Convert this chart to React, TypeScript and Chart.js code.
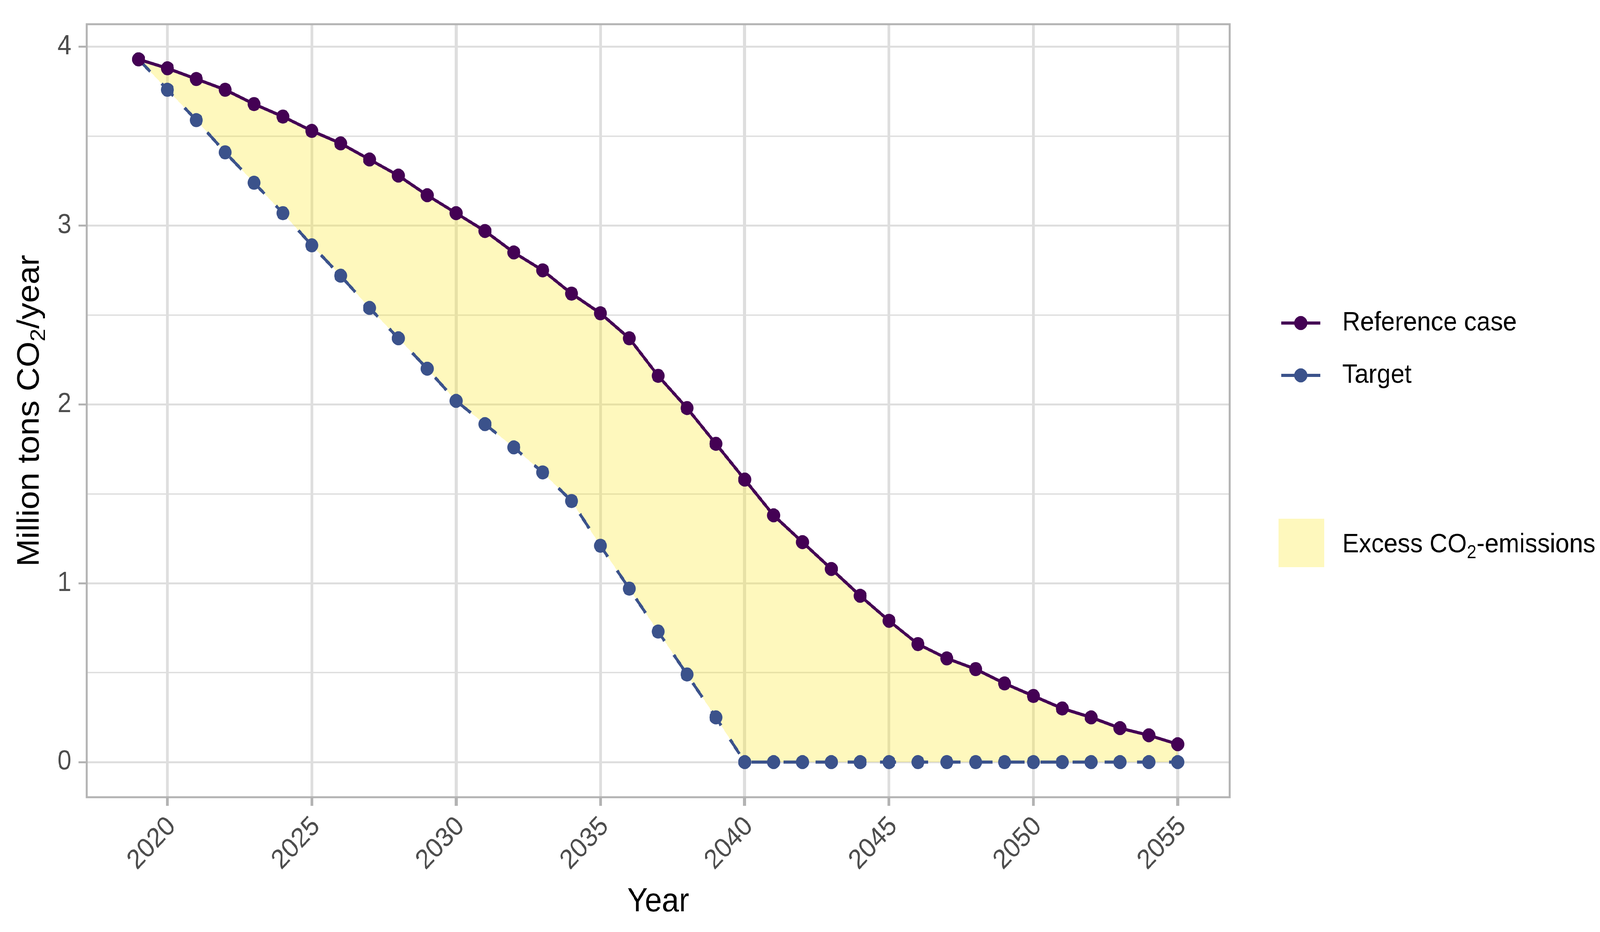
import React, { useEffect, useRef, useState } from 'react';
import { Chart, registerables } from 'chart.js';

Chart.register(...registerables);

const W = 4433;
const H = 2386;
const FONT = "'Liberation Sans', Arial, Helvetica, sans-serif";

const years = [
  2019, 2020, 2021, 2022, 2023, 2024, 2025, 2026, 2027, 2028,
  2029, 2030, 2031, 2032, 2033, 2034, 2035, 2036, 2037, 2038,
  2039, 2040, 2041, 2042, 2043, 2044, 2045, 2046, 2047, 2048,
  2049, 2050, 2051, 2052, 2053, 2054, 2055,
];

const referenceCase = [
  3.93, 3.88, 3.82, 3.76, 3.68, 3.61, 3.53, 3.46, 3.37, 3.28,
  3.17, 3.07, 2.97, 2.85, 2.75, 2.62, 2.51, 2.37, 2.16, 1.98,
  1.78, 1.58, 1.38, 1.23, 1.08, 0.93, 0.79, 0.66, 0.58, 0.52,
  0.44, 0.37, 0.30, 0.25, 0.19, 0.15, 0.10,
];

const target = [
  3.93, 3.76, 3.59, 3.41, 3.24, 3.07, 2.89, 2.72, 2.54, 2.37,
  2.20, 2.02, 1.89, 1.76, 1.62, 1.46, 1.21, 0.97, 0.73, 0.49,
  0.25, 0, 0, 0, 0, 0, 0, 0, 0, 0,
  0, 0, 0, 0, 0, 0, 0,
];

const xTicks = [2020, 2025, 2030, 2035, 2040, 2045, 2050, 2055];
const yGridValues = [0, 0.5, 1, 1.5, 2, 2.5, 3, 3.5, 4];

const seriesNames = ['Reference case', 'Target'];
const seriesColors = ['#440154', '#3B528B'];
const fillColor = 'rgba(253, 231, 37, 0.3)';
const fillLabel = ['Excess CO', '2', '-emissions'];
const yTitle = ['Million tons CO', '2', '/year'];
const xTitle = 'Year';

const isMajor = (v: number) => Math.abs(v - Math.round(v)) < 1e-9;

function drawSubText(
  ctx: CanvasRenderingContext2D,
  parts: string[],
  x: number,
  y: number,
  size: number,
  align: 'left' | 'center'
) {
  const main = `${size}px ${FONT}`;
  const sub = `${Math.round(size * 0.7)}px ${FONT}`;
  ctx.font = main;
  const w1 = ctx.measureText(parts[0]).width;
  const w3 = ctx.measureText(parts[2]).width;
  ctx.font = sub;
  const w2 = ctx.measureText(parts[1]).width;
  const total = w1 + w2 + w3;
  let sx = align === 'center' ? x - total / 2 : x;
  ctx.textAlign = 'left';
  ctx.textBaseline = 'alphabetic';
  const base = y + size * 0.35;
  ctx.font = main;
  ctx.fillText(parts[0], sx, base);
  sx += w1;
  ctx.font = sub;
  ctx.fillText(parts[1], sx, base + size * 0.22);
  sx += w2;
  ctx.font = main;
  ctx.fillText(parts[2], sx, base);
}

const decorPlugin = {
  id: 'decor',
  afterDatasetsDraw(chart: any) {
    const { ctx, chartArea } = chart;
    ctx.save();
    ctx.strokeStyle = '#B3B3B3';
    ctx.lineWidth = 5;
    ctx.strokeRect(
      chartArea.left,
      chartArea.top,
      chartArea.right - chartArea.left,
      chartArea.bottom - chartArea.top
    );
    ctx.restore();
  },
  afterDraw(chart: any) {
    const { ctx, chartArea } = chart;
    ctx.save();
    ctx.fillStyle = '#000000';
    ctx.translate(77, (chartArea.top + chartArea.bottom) / 2);
    ctx.rotate(-Math.PI / 2);
    drawSubText(ctx, yTitle, 0, 0, 85, 'center');
    ctx.restore();

    ctx.save();
    const keyX0 = 3550;
    const keyX1 = 3658;
    const textX = 3719;
    const rows = [827, 961];
    seriesNames.forEach((name, i) => {
      const y = rows[i];
      ctx.strokeStyle = seriesColors[i];
      ctx.lineWidth = 8;
      ctx.beginPath();
      ctx.moveTo(keyX0, y);
      ctx.lineTo(keyX1, y);
      ctx.stroke();
      ctx.fillStyle = seriesColors[i];
      ctx.beginPath();
      ctx.arc((keyX0 + keyX1) / 2, y, 18, 0, Math.PI * 2);
      ctx.fill();
      ctx.fillStyle = '#000000';
      ctx.font = `69px ${FONT}`;
      ctx.textAlign = 'left';
      ctx.textBaseline = 'middle';
      ctx.fillText(name, textX, y);
    });
    ctx.fillStyle = fillColor;
    ctx.fillRect(3542, 1328, 127, 124);
    ctx.fillStyle = '#000000';
    drawSubText(ctx, fillLabel, textX, 1390, 69, 'left');
    ctx.restore();
  },
};

export default function App() {
  const ref = useRef<HTMLCanvasElement>(null);
  const [view, setView] = useState({
    w: typeof window !== 'undefined' ? window.innerWidth : W,
    h: typeof window !== 'undefined' ? window.innerHeight : H,
  });

  useEffect(() => {
    document.body.style.margin = '0';
    document.body.style.overflow = 'hidden';
    const onResize = () => setView({ w: window.innerWidth, h: window.innerHeight });
    window.addEventListener('resize', onResize);
    return () => window.removeEventListener('resize', onResize);
  }, []);

  useEffect(() => {
    const canvas = ref.current;
    if (!canvas) return;
    const chart = new Chart(canvas, {
      type: 'line',
      data: {
        datasets: [
          {
            label: seriesNames[0],
            data: years.map((x, i) => ({ x, y: referenceCase[i] })),
            borderColor: seriesColors[0],
            backgroundColor: fillColor,
            pointBackgroundColor: seriesColors[0],
            pointBorderWidth: 0,
            pointRadius: 18,
            borderWidth: 8,
            fill: '+1',
            tension: 0,
          },
          {
            label: seriesNames[1],
            data: years.map((x, i) => ({ x, y: target[i] })),
            borderColor: seriesColors[1],
            backgroundColor: seriesColors[1],
            pointBackgroundColor: seriesColors[1],
            pointBorderWidth: 0,
            pointRadius: 18,
            borderWidth: 8,
            borderDash: [45, 44],
            fill: false,
            tension: 0,
          },
        ],
      },
      options: {
        animation: false,
        responsive: false,
        layout: { padding: { left: 0, top: 54, right: 1026, bottom: 0 } },
        plugins: {
          legend: { display: false },
          tooltip: { enabled: false },
          filler: { drawTime: 'beforeDatasetsDraw' },
        } as any,
        scales: {
          x: {
            type: 'linear',
            min: 2017.2,
            max: 2056.8,
            afterBuildTicks: (s: any) => {
              s.ticks = xTicks.map((v) => ({ value: v }));
            },
            afterFit: (s: any) => {
              s.height = 345;
            },
            ticks: {
              autoSkip: false,
              maxRotation: 45,
              minRotation: 45,
              padding: 12,
              labelOffset: 12,
              color: '#4D4D4D',
              font: { size: 70, family: FONT },
              callback: (v: any) => String(v),
            },
            grid: {
              color: '#DEDEDE',
              lineWidth: 8,
              tickLength: 22,
              tickColor: '#B3B3B3',
              tickWidth: 8,
            },
            border: { display: false },
            title: {
              display: true,
              text: xTitle,
              color: '#000000',
              font: { size: 85, family: FONT },
              padding: { top: 0, bottom: 25 },
            },
          },
          y: {
            type: 'linear',
            min: -0.1965,
            max: 4.1265,
            afterBuildTicks: (s: any) => {
              s.ticks = yGridValues.map((v) => ({ value: v }));
            },
            afterFit: (s: any) => {
              s.width = 240;
            },
            ticks: {
              autoSkip: false,
              padding: 20,
              color: '#4D4D4D',
              font: { size: 70, family: FONT },
              callback: (v: any) => (isMajor(Number(v)) ? String(v) : ''),
            },
            grid: {
              color: '#DEDEDE',
              lineWidth: (c: any) => (c.tick && isMajor(c.tick.value) ? 5 : 3.5),
              tickLength: 22,
              tickColor: (c: any) =>
                c.tick && isMajor(c.tick.value) ? '#B3B3B3' : 'rgba(0,0,0,0)',
              tickWidth: 5,
            },
            border: { display: false },
          },
        },
      },
      plugins: [decorPlugin],
    } as any);
    return () => chart.destroy();
  }, []);

  const sx = view.w / W;
  const sy = view.h / H;

  return (
    <div
      style={{
        position: 'fixed',
        left: 0,
        top: 0,
        width: W,
        height: H,
        background: '#ffffff',
        transform: `scale(${sx}, ${sy})`,
        transformOrigin: '0 0',
      }}
    >
      <canvas ref={ref} width={W} height={H} style={{ width: W, height: H, display: 'block' }} />
    </div>
  );
}
